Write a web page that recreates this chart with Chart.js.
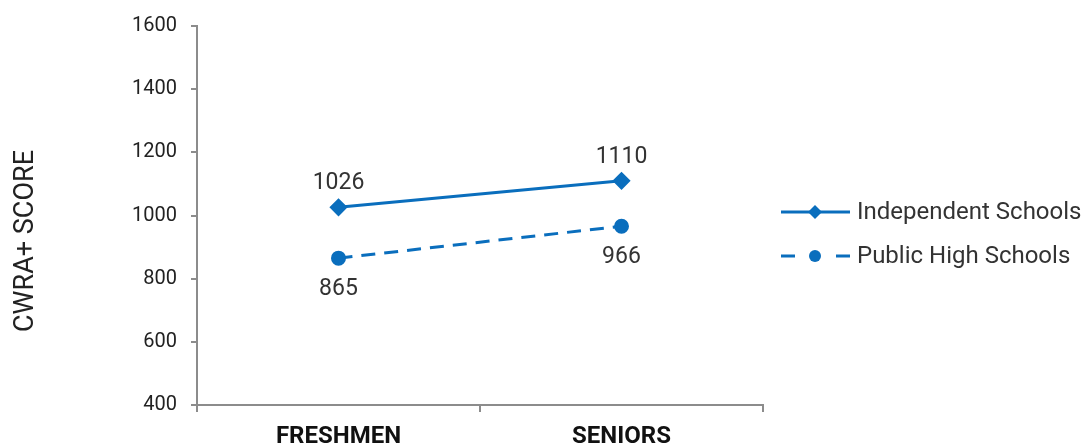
<!DOCTYPE html>
<html>
<head>
<meta charset="utf-8">
<script src="https://cdn.jsdelivr.net/npm/chart.js@4"></script>
<style>
  html, body { margin: 0; padding: 0; background: #fff; }
  #wrap { width: 1090px; height: 444px; }
</style>
</head>
<body>
<div id="wrap"><canvas id="scoreChart" width="1090" height="444"></canvas></div>
<script>
var categories = ['FRESHMEN', 'SENIORS'];
var independentScores = [1026, 1110];
var publicScores = [865, 966];
var yTicks = [400, 600, 800, 1000, 1200, 1400, 1600];

var blue = '#0a6ebd';
var FONT = 'Roboto, "Liberation Sans", sans-serif';

// value labels: independent above the point, public below
var valueLabels = {
  id: 'valueLabels',
  afterDatasetsDraw: function (chart) {
    var ctx = chart.ctx;
    ctx.save();
    ctx.font = '23px ' + FONT;
    ctx.fillStyle = '#333';
    ctx.textAlign = 'center';
    ctx.textBaseline = 'alphabetic';
    chart.data.datasets.forEach(function (ds, i) {
      var meta = chart.getDatasetMeta(i);
      meta.data.forEach(function (pt, j) {
        var above = ds.labelPos === 'top';
        ctx.fillText(String(ds.data[j]), pt.x, above ? pt.y - 18 : pt.y + 37);
      });
    });
    ctx.restore();
  }
};

// rotated y title, sitting a little below the axis middle
var yTitle = {
  id: 'yTitle',
  afterDraw: function (chart) {
    var ctx = chart.ctx;
    ctx.save();
    ctx.translate(26, 241);
    ctx.rotate(-Math.PI / 2);
    ctx.font = '27px ' + FONT;
    ctx.fillStyle = '#222';
    ctx.textAlign = 'center';
    ctx.textBaseline = 'middle';
    ctx.fillText('CWRA+ SCORE', 0, 0);
    ctx.restore();
  }
};

// legend on the right with line sample + marker
var sideLegend = {
  id: 'sideLegend',
  afterDraw: function (chart) {
    var ctx = chart.ctx;
    var x0 = 781, x1 = 850, xm = 815;
    var rows = [212, 256];
    ctx.save();
    chart.data.datasets.forEach(function (ds, i) {
      var y = rows[i];
      ctx.strokeStyle = blue;
      ctx.fillStyle = blue;
      ctx.lineWidth = 3;
      if (ds.borderDash && ds.borderDash.length) {
        ctx.beginPath();
        ctx.moveTo(x0, y); ctx.lineTo(x0 + 14, y);
        ctx.moveTo(x1 - 14, y); ctx.lineTo(x1, y);
        ctx.stroke();
        ctx.beginPath();
        ctx.arc(xm, y, 6, 0, Math.PI * 2);
        ctx.fill();
      } else {
        ctx.beginPath();
        ctx.moveTo(x0, y); ctx.lineTo(x1, y);
        ctx.stroke();
        ctx.beginPath();
        ctx.moveTo(xm, y - 7); ctx.lineTo(xm + 7, y);
        ctx.lineTo(xm, y + 7); ctx.lineTo(xm - 7, y);
        ctx.closePath();
        ctx.fill();
      }
      ctx.font = '24px ' + FONT;
      ctx.fillStyle = '#333';
      ctx.textAlign = 'left';
      ctx.textBaseline = 'middle';
      ctx.fillText(ds.label, 857, y + 1);
    });
    ctx.restore();
  }
};

new Chart(document.getElementById('scoreChart'), {
  type: 'line',
  data: {
    labels: categories,
    datasets: [{
      label: 'Independent Schools',
      data: independentScores,
      borderColor: blue,
      backgroundColor: blue,
      borderWidth: 3,
      pointStyle: 'rectRot',
      pointRadius: 7,
      pointHoverRadius: 7,
      labelPos: 'top'
    }, {
      label: 'Public High Schools',
      data: publicScores,
      borderColor: blue,
      backgroundColor: blue,
      borderWidth: 3,
      borderDash: [14, 9],
      pointStyle: 'circle',
      pointRadius: 6,
      pointHoverRadius: 6,
      labelPos: 'bottom'
    }]
  },
  options: {
    responsive: false,
    animation: false,
    layout: { padding: { top: 23, right: 327, left: 0, bottom: 0 } },
    plugins: {
      legend: { display: false },
      tooltip: { enabled: false }
    },
    scales: {
      x: {
        offset: true,
        grid: { offset: true, drawOnChartArea: false, drawTicks: true, tickLength: 7, color: '#8c8c8c', lineWidth: 2 },
        border: { color: '#8c8c8c', width: 2 },
        ticks: { color: '#111', padding: 11, font: { family: FONT, size: 24, weight: 'bold' } },
        afterFit: function (axis) { axis.height = 39; }
      },
      y: {
        min: 400,
        max: 1600,
        afterBuildTicks: function (axis) {
          axis.ticks = yTicks.map(function (v) { return { value: v }; });
        },
        grid: { drawOnChartArea: false, drawTicks: true, tickLength: 6, color: '#8c8c8c', lineWidth: 2 },
        border: { color: '#8c8c8c', width: 2 },
        ticks: {
          color: '#222',
          padding: 14,
          font: { family: FONT, size: 20 },
          callback: function (v) { return String(v); }
        },
        afterFit: function (axis) { axis.width = 197; }
      }
    }
  },
  plugins: [valueLabels, yTitle, sideLegend]
});
</script>
</body>
</html>
